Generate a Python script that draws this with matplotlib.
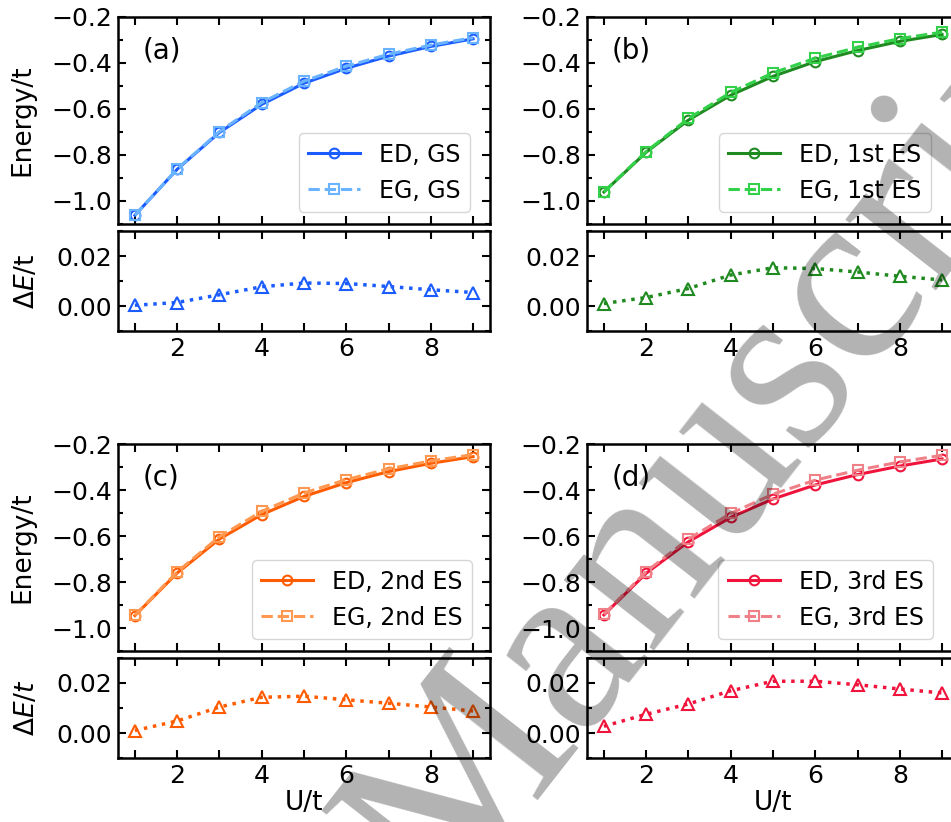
import numpy as np
import matplotlib
matplotlib.use("Agg")
import matplotlib.pyplot as plt
from matplotlib.ticker import MultipleLocator
from matplotlib.transforms import IdentityTransform

U = [1, 2, 3, 4, 5, 6, 7, 8, 9]

# (a) ground state
ed_a = [-1.062, -0.862, -0.702, -0.580, -0.488, -0.423, -0.370, -0.328, -0.295]
eg_a = [-1.062, -0.861, -0.698, -0.572, -0.479, -0.414, -0.362, -0.322, -0.290]
de_a = [0.0003, 0.0014, 0.0045, 0.0077, 0.0092, 0.0090, 0.0078, 0.0065, 0.0054]
# (b) 1st excited state
ed_b = [-0.961, -0.788, -0.648, -0.540, -0.458, -0.394, -0.346, -0.306, -0.276]
eg_b = [-0.960, -0.785, -0.641, -0.528, -0.443, -0.379, -0.332, -0.294, -0.266]
de_b = [0.0010, 0.0034, 0.0070, 0.0124, 0.0153, 0.0150, 0.0136, 0.0119, 0.0104]
# (c) 2nd excited state
ed_c = [-0.946, -0.761, -0.613, -0.507, -0.428, -0.368, -0.320, -0.284, -0.255]
eg_c = [-0.945, -0.756, -0.603, -0.493, -0.413, -0.355, -0.308, -0.274, -0.246]
de_c = [0.0010, 0.0048, 0.0104, 0.0143, 0.0147, 0.0133, 0.0119, 0.0104, 0.0088]
# (d) 3rd excited state
ed_d = [-0.943, -0.762, -0.625, -0.519, -0.439, -0.378, -0.333, -0.296, -0.265]
eg_d = [-0.940, -0.755, -0.613, -0.502, -0.418, -0.357, -0.314, -0.278, -0.249]
de_d = [0.0027, 0.0075, 0.0116, 0.0169, 0.0207, 0.0207, 0.0193, 0.0176, 0.0160]

states = ["GS", "1st ES", "2nd ES", "3rd ES"]
tags = ["(a)", "(b)", "(c)", "(d)"]

fig = plt.figure(figsize=(9.51, 8.22), dpi=100)

W, H = 951.0, 822.0
def box(x0, x1, y0, y1):
    # pixel box (y from top) -> figure fraction
    return [x0 / W, 1 - y1 / H, (x1 - x0) / W, (y1 - y0) / H]

cols = [(118, 490), (587, 959)]
rows = [((17, 224), (231, 331)), ((444, 651), (658, 758))]

panels = [
    (ed_a, eg_a, de_a, "#1a5cff", "#6ab4ff", "#1a5cff", 0.946),
    (ed_b, eg_b, de_b, "#1f8a1f", "#33d04a", "#1f8a1f", 0.925),
    (ed_c, eg_c, de_c, "#ff5c00", "#ff9850", "#ff5c00", 0.952),
    (ed_d, eg_d, de_d, "#f0143c", "#f08088", "#f0143c", 0.930),
]

def style(ax):
    ax.tick_params(which="both", direction="in", top=True, right=True,
                   width=1.5, labelsize=18, pad=4)
    ax.tick_params(which="major", length=6)
    ax.tick_params(axis="y", which="minor", length=3.5)
    ax.tick_params(axis="x", which="minor", length=6)
    for s in ax.spines.values():
        s.set_linewidth(1.8)
    ax.set_xlim(0.6, 9.4)
    ax.xaxis.set_major_locator(MultipleLocator(2))
    ax.xaxis.set_minor_locator(MultipleLocator(1))

for k, (ed, eg, de, c1, c2, c3, lx) in enumerate(panels):
    r, c = divmod(k, 2)
    (t0, t1), (b0, b1) = rows[r]
    x0, x1 = cols[c]
    ax = fig.add_axes(box(x0, x1, t0, t1))
    axd = fig.add_axes(box(x0, x1, b0, b1))

    ax.plot(U, ed, "-o", color=c1, lw=2.2, ms=7, mfc="none", mew=1.5,
            label="ED, " + states[k])
    ax.plot(U, eg, "--s", color=c2, lw=2.2, ms=7, mfc="none", mew=1.5,
            label="EG, " + states[k])
    ax.set_ylim(-1.1, -0.2)
    ax.yaxis.set_major_locator(MultipleLocator(0.2))
    ax.yaxis.set_minor_locator(MultipleLocator(0.1))
    style(ax)
    ax.tick_params(labelbottom=False)
    ax.legend(loc="lower right", bbox_to_anchor=(lx, 0.058), borderaxespad=0,
              fontsize=17, numpoints=1, handlelength=2.2, handletextpad=0.8)
    ax.text(0.067, 0.84, tags[k], transform=ax.transAxes, fontsize=20,
            ha="left", va="center")

    axd.plot(U, de, ":^", color=c3, lw=2.5, ms=8, mfc="none", mew=1.5)
    axd.set_ylim(-0.01, 0.03)
    axd.yaxis.set_major_locator(MultipleLocator(0.02))
    axd.yaxis.set_minor_locator(MultipleLocator(0.01))
    style(axd)

    if c == 0:
        ax.set_ylabel("Energy/t", fontsize=19)
        ax.yaxis.set_label_coords(-0.223, 0.5)
        if r == 0:
            axd.set_ylabel(r"$\Delta E$/t", fontsize=19)
        else:
            axd.set_ylabel(r"$\Delta E/t$", fontsize=19)
        axd.yaxis.set_label_coords(-0.21, 0.5)
    if r == 1:
        axd.set_xlabel("U/t", fontsize=19, labelpad=2)

# watermark
fig.text(444, -89, "Manuscript", transform=IdentityTransform(),
         rotation=52, rotation_mode="anchor", ha="left", va="baseline",
         fontsize=180, family="Liberation Serif", color="black", alpha=0.3,
         zorder=10)

fig.savefig("out.png", dpi=100)
